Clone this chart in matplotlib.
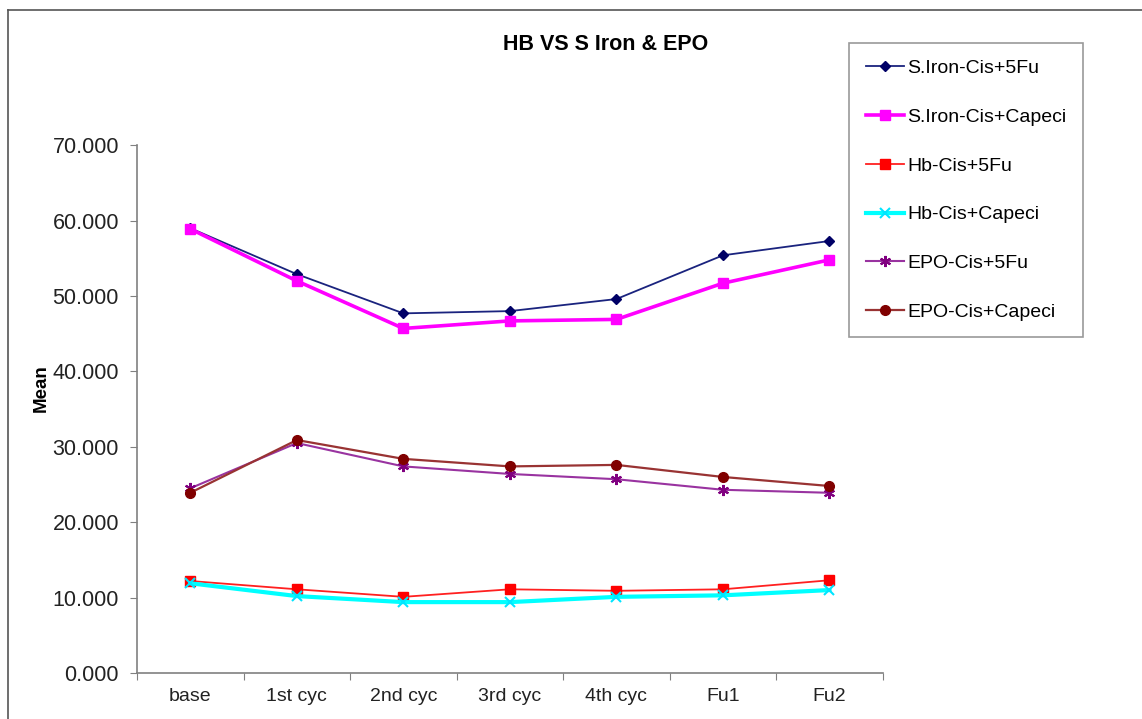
"""Line chart of haemoglobin, serum iron and EPO means across treatment cycles."""

import matplotlib.pyplot as plt
from matplotlib.lines import Line2D
from matplotlib.ticker import FixedLocator, FormatStrFormatter

plt.rcParams["font.family"] = ["Liberation Sans", "DejaVu Sans"]

cycles = ["base", "1st cyc", "2nd cyc", "3rd cyc", "4th cyc", "Fu1", "Fu2"]

siron_5fu = [59.0, 52.9, 47.7, 48.0, 49.6, 55.4, 57.3]
siron_capeci = [58.9, 52.0, 45.7, 46.7, 46.9, 51.7, 54.8]
hb_5fu = [12.2, 11.1, 10.1, 11.1, 10.9, 11.1, 12.3]
hb_capeci = [11.9, 10.2, 9.4, 9.4, 10.1, 10.3, 11.0]
epo_5fu = [24.5, 30.5, 27.4, 26.4, 25.7, 24.3, 23.9]
epo_capeci = [23.9, 30.9, 28.4, 27.4, 27.6, 26.0, 24.8]

series = [
    ("S.Iron-Cis+5Fu", siron_5fu, dict(color="#1a237e", lw=1.3, marker="D", ms=5,
                                        mfc="#000066", mec="#000066")),
    ("S.Iron-Cis+Capeci", siron_capeci, dict(color="#ff00ff", lw=2.6, marker="s", ms=7,
                                              mfc="#ff00ff", mec="#ff00ff")),
    ("Hb-Cis+5Fu", hb_5fu, dict(color="#ff2020", lw=1.3, marker="s", ms=7,
                                mfc="#ff0000", mec="#ff0000")),
    ("Hb-Cis+Capeci", hb_capeci, dict(color="#00ffff", lw=3.0, marker="x", ms=7,
                                      mew=1.5, mec="#00e5ff")),
    ("EPO-Cis+5Fu", epo_5fu, dict(color="#9933a0", lw=1.5, marker=(6, 2, 0), ms=8,
                                  mew=1.5, mec="#800080")),
    ("EPO-Cis+Capeci", epo_capeci, dict(color="#993333", lw=1.6, marker="o", ms=7,
                                        mfc="#800000", mec="#800000")),
]

fig = plt.figure(figsize=(11.42, 7.19), dpi=100)
ax = fig.add_axes([0.120, 0.064, 0.653, 0.734])

x = [i + 0.5 for i in range(len(cycles))]
handles = []
for label, values, style in series:
    (line,) = ax.plot(x, values, label=label, **style)
    handles.append(line)

ax.set_xlim(0, len(cycles))
ax.set_ylim(0, 70)
ax.yaxis.set_major_locator(FixedLocator(range(0, 71, 10)))
ax.yaxis.set_major_formatter(FormatStrFormatter("%.3f"))
ax.set_xticks(range(len(cycles) + 1))
ax.set_xticklabels([])
ax.set_xticks(x, minor=True)
ax.set_xticklabels(cycles, minor=True, fontsize=14, color="#222222")
ax.tick_params(axis="x", which="minor", length=0, pad=11)
ax.tick_params(axis="x", which="major", direction="out", length=5, color="#808080")
ax.tick_params(axis="y", direction="out", length=5, color="#808080",
               labelsize=15.5, labelcolor="#222222", pad=8)

for side in ("top", "right"):
    ax.spines[side].set_visible(False)
for side in ("left", "bottom"):
    ax.spines[side].set_color("#808080")
    ax.spines[side].set_linewidth(1.2)

fig.text(606 / 1142, 1 - 44 / 719, "HB VS S Iron & EPO", ha="center", va="center",
         fontsize=15.5, fontweight="bold")
fig.text(41 / 1142, 1 - 388 / 719, "Mean", ha="center", va="center", rotation=90,
         fontsize=13.5, fontweight="bold")

leg = fig.legend(handles=handles, loc="upper left",
                 bbox_to_anchor=(849 / 1142, 1 - 43 / 719),
                 fontsize=14, frameon=True, fancybox=False, borderpad=0.85,
                 labelspacing=1.6, handlelength=2.0, handletextpad=0.15,
                 borderaxespad=0)
leg.get_frame().set_edgecolor("#808080")
leg.get_frame().set_linewidth(1.2)

# outer chart border: left and top edges
fig.add_artist(Line2D([8 / 1142, 8 / 1142], [0, 1 - 10 / 719], transform=fig.transFigure,
                      color="#555555", lw=1.2))
fig.add_artist(Line2D([8 / 1142, 1], [1 - 10 / 719, 1 - 10 / 719], transform=fig.transFigure,
                      color="#555555", lw=1.2))

fig.savefig("out.png", dpi=100)
